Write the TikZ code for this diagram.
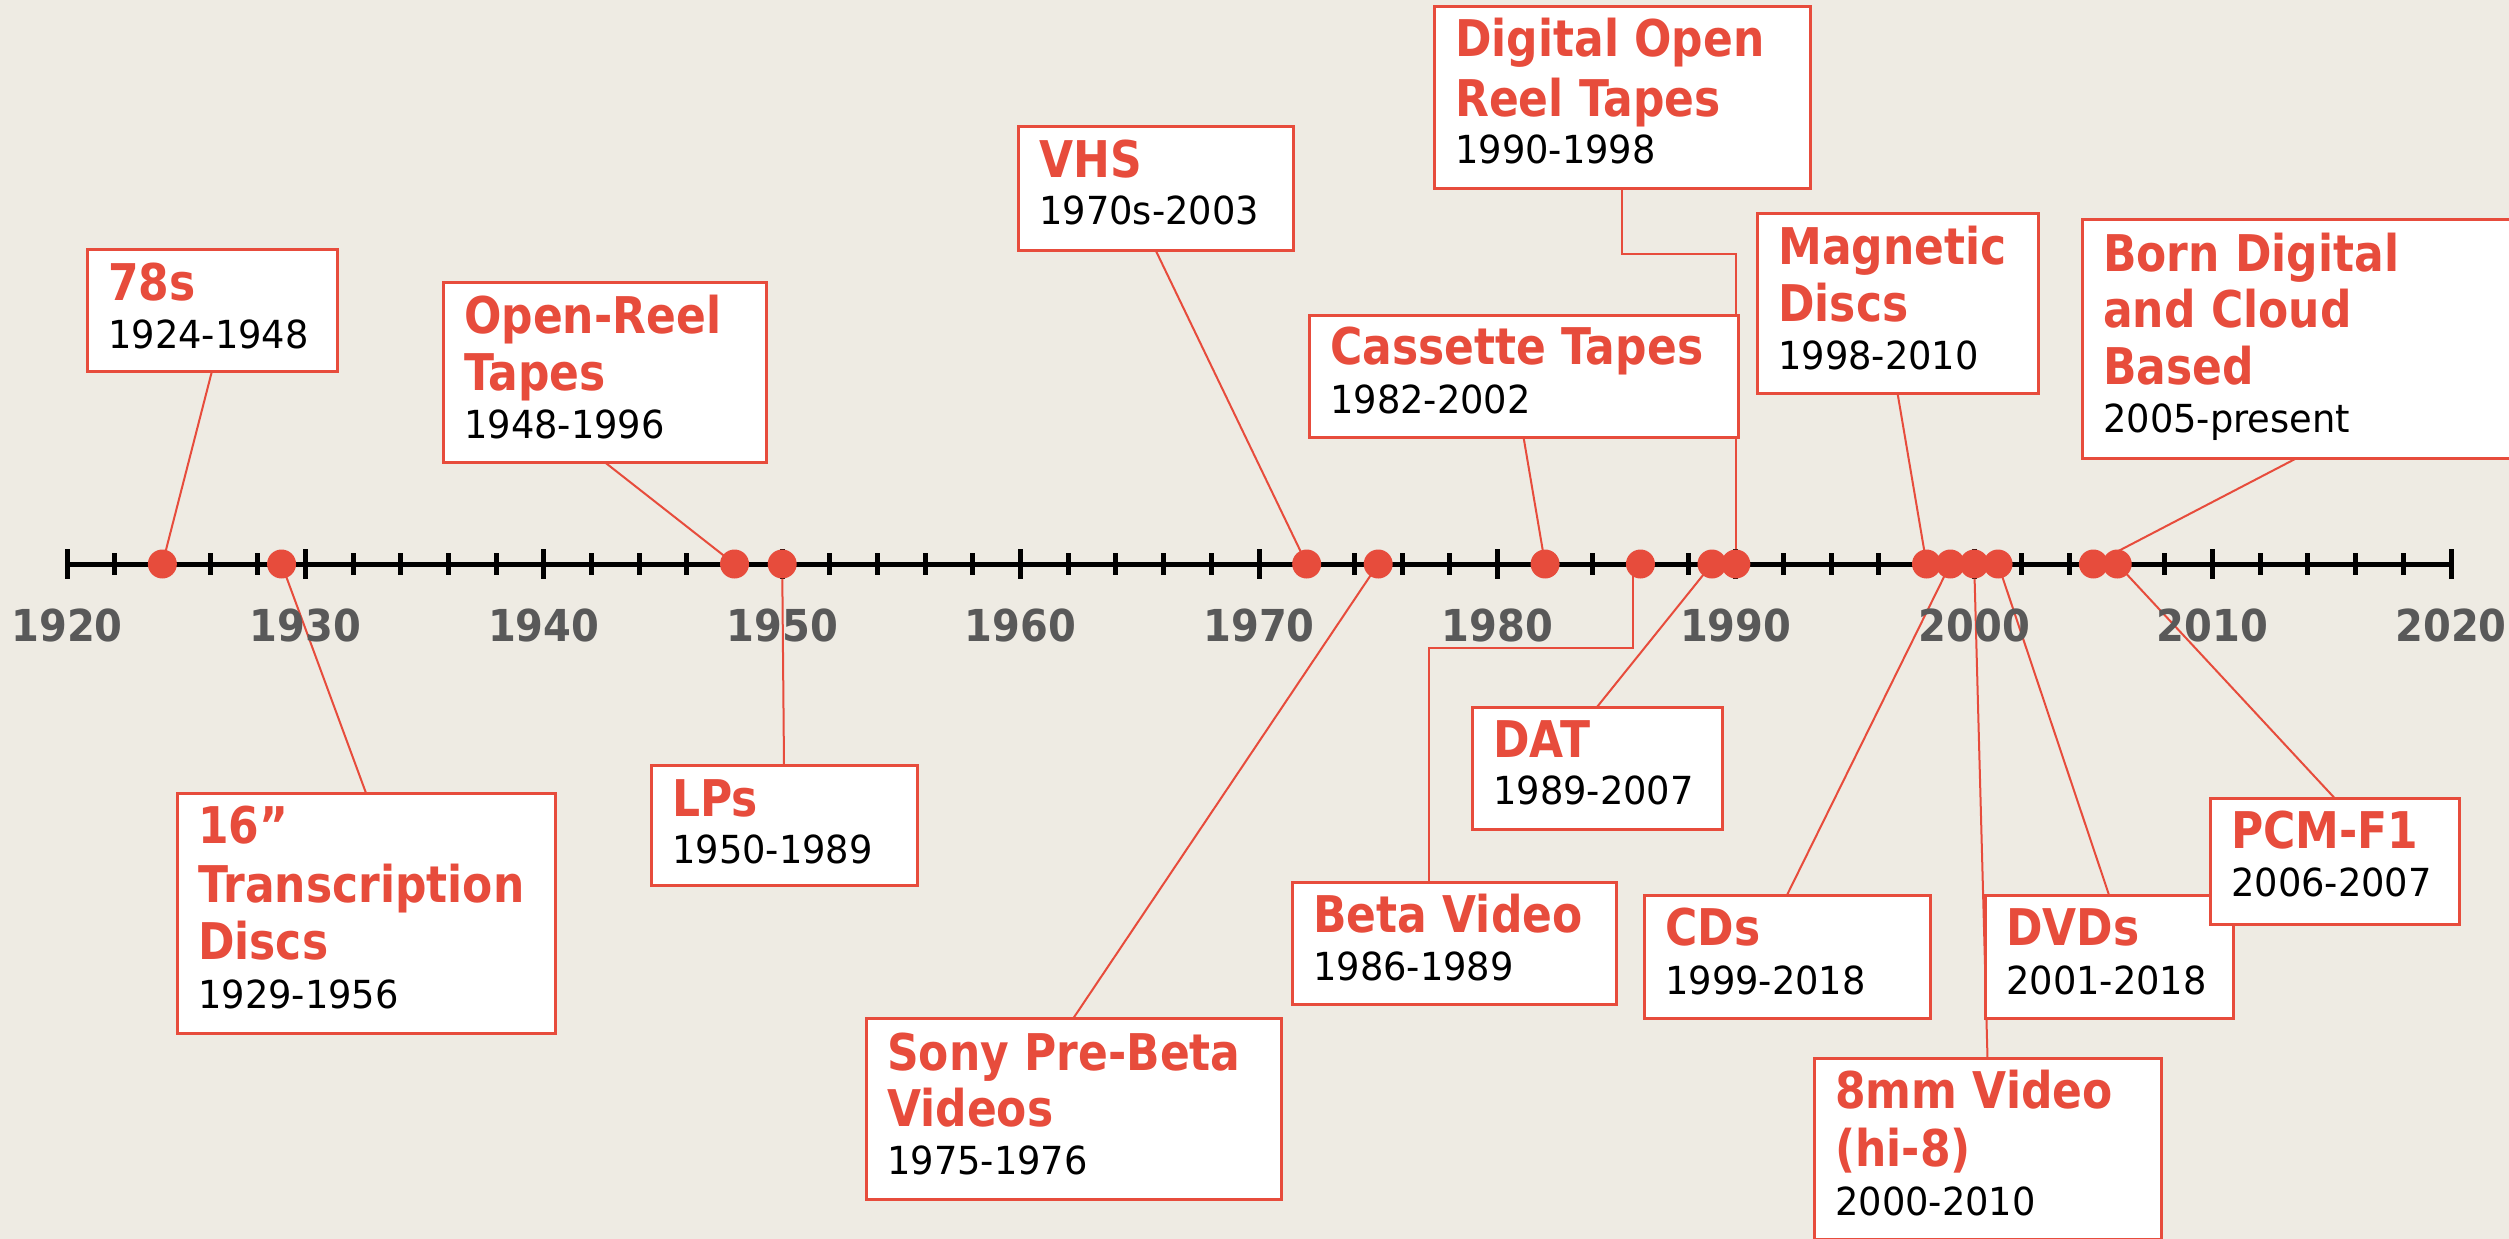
\documentclass[tikz,border=0pt]{standalone}
\usepackage{fontspec}
\setmainfont{DejaVu Sans}
\usepackage{graphicx}
\usetikzlibrary{calc}
\definecolor{tlred}{HTML}{E74C3C}
\definecolor{bgc}{HTML}{EEEBE3}
\definecolor{axgray}{HTML}{595959}
\pgfdeclarelayer{bg}
\pgfdeclarelayer{lines}
\pgfsetlayers{bg,lines,main}
\newcommand\stt[1]{\scalebox{1}[1.15]{#1}}
\newcommand\boxttl[3]{\node[ttl, anchor=base west] (#1t#2) at ([shift={(21pt,-#2pt)}]#1.north west) {\stt{#3}};}
\newcommand\boxyr[3]{\node[yrs, anchor=base west] (#1y#2) at ([shift={(21pt,-#2pt)}]#1.north west) {\scalebox{1}[1.05]{#3}};}
\tikzset{
  box/.style={rectangle, draw=tlred, line width=3pt, fill=white, inner sep=0pt, outer sep=0pt, anchor=north west},
  ttl/.style={text=tlred, font=\fontsize{44}{50}\selectfont\bfseries, inner sep=0pt},
  yrs/.style={text=black, font=\fontsize{36.8}{40}\selectfont, inner sep=0pt},
  conn/.style={draw=tlred, line width=2pt},
  dot/.style={circle, fill=tlred, minimum size=29pt, inner sep=0pt},
  axl/.style={text=axgray, font=\fontsize{40}{44}\selectfont\bfseries, inner sep=0pt, anchor=base},
}
\begin{document}
\begin{tikzpicture}[x=1pt,y=-1pt]
\useasboundingbox (0,0) rectangle (2509,1239);
\begin{pgfonlayer}{bg}
\fill[bgc] (0,0) rectangle (2509,1239);
\end{pgfonlayer}

% dot positions
\foreach \yr in {1924,1929,1948,1950,1972,1975,1982,1986,1989,1990,1998,1999,2000,2001,2005,2006}{
  \coordinate (y\yr) at ({67+(\yr-1920)*23.84},564);
}

% boxes
\node[box, minimum width=250pt, minimum height=122pt] (b78) at (87,249) {};
\boxttl{b78}{51}{78s}
\boxyr{b78}{99}{1924-1948}

\node[box, minimum width=378pt, minimum height=240pt] (b16) at (177,793) {};
\boxttl{b16}{50}{16”}
\boxttl{b16}{109}{Transcription}
\boxttl{b16}{166}{Discs}
\boxyr{b16}{215}{1929-1956}

\node[box, minimum width=323pt, minimum height=180pt] (bopen) at (443,282) {};
\boxttl{bopen}{51}{Open-Reel}
\boxttl{bopen}{108}{Tapes}
\boxyr{bopen}{156}{1948-1996}

\node[box, minimum width=266pt, minimum height=120pt] (blp) at (651,765) {};
\boxttl{blp}{51}{LPs}
\boxyr{blp}{98}{1950-1989}

\node[box, minimum width=275pt, minimum height=124pt] (bvhs) at (1018,126) {};
\boxttl{bvhs}{51}{VHS}
\boxyr{bvhs}{98}{1970s-2003}

\node[box, minimum width=415pt, minimum height=181pt] (bsony) at (866,1018) {};
\boxttl{bsony}{52}{Sony Pre-Beta}
\boxttl{bsony}{108}{Videos}
\boxyr{bsony}{156}{1975-1976}

\node[box, minimum width=429pt, minimum height=122pt] (bcass) at (1309,315) {};
\boxttl{bcass}{49}{Cassette Tapes}
\boxyr{bcass}{98}{1982-2002}

\node[box, minimum width=376pt, minimum height=181pt] (bdig) at (1434,7) {};
\boxttl{bdig}{50}{Digital Open}
\boxttl{bdig}{110}{Reel Tapes}
\boxyr{bdig}{156}{1990-1998}

\node[box, minimum width=324pt, minimum height=122pt] (bbeta) at (1292,882) {};
\boxttl{bbeta}{50}{Beta Video}
\boxyr{bbeta}{98}{1986-1989}

\node[box, minimum width=250pt, minimum height=122pt] (bdat) at (1472,707) {};
\boxttl{bdat}{50}{DAT}
\boxyr{bdat}{97}{1989-2007}

\node[box, minimum width=281pt, minimum height=180pt] (bmag) at (1757,213) {};
\boxttl{bmag}{51}{Magnetic}
\boxttl{bmag}{108}{Discs}
\boxyr{bmag}{156}{1998-2010}

\node[box, minimum width=430pt, minimum height=239pt] (bborn) at (2082,219) {};
\boxttl{bborn}{52}{Born Digital}
\boxttl{bborn}{108}{and Cloud}
\boxttl{bborn}{165}{Based}
\boxyr{bborn}{213}{2005-present}

\node[box, minimum width=286pt, minimum height=123pt] (bcd) at (1644,895) {};
\boxttl{bcd}{50}{CDs}
\boxyr{bcd}{99}{1999-2018}

\node[box, minimum width=248pt, minimum height=123pt] (bdvd) at (1985,895) {};
\boxttl{bdvd}{50}{DVDs}
\boxyr{bdvd}{99}{2001-2018}

\node[box, minimum width=347pt, minimum height=181pt] (b8mm) at (1814,1058) {};
\boxttl{b8mm}{50}{8mm Video}
\boxttl{b8mm}{108}{(hi-8)}
\boxyr{b8mm}{157}{2000-2010}

\node[box, minimum width=249pt, minimum height=126pt] (bpcm) at (2210,798) {};
\boxttl{bpcm}{50}{PCM-F1}
\boxyr{bpcm}{98}{2006-2007}

% connectors
\coordinate (elbowD) at (1622,254);
\coordinate (betaA) at (1633,648);
\coordinate (betaB) at (1429,648);
\begin{pgfonlayer}{lines}
\draw[conn] (b78.south) -- (y1924);
\draw[conn] (b16.north) -- (y1929);
\draw[conn] (bopen.south) -- (y1948);
\draw[conn] (blp.north) -- (y1950);
\draw[conn] (bvhs.south) -- (y1972);
\draw[conn] (bsony.north) -- (y1975);
\draw[conn] (bcass.south) -- (y1982);
\draw[conn] (bdig.south) -- (elbowD) -| (y1990);
\draw[conn] (betaA |- y1986) -- (betaA) -- (betaB) -- (betaB |- bbeta.north);
\draw[conn] (bdat.north) -- (y1989);
\draw[conn] (bmag.south) -- (y1998);
\draw[conn] (bcd.north) -- (y1999);
\draw[conn] (b8mm.north) -- (y2000);
\draw[conn] (bdvd.north) -- (y2001);
\draw[conn] (bborn.south) -- (y2005);
\draw[conn] (bpcm.north) -- (y2006);
\end{pgfonlayer}

% axis
\draw[line width=5pt] (67,564) -- (2451,564);
\foreach \yr in {1920,1922,...,2020}{
  \pgfmathsetmacro\xx{67+(\yr-1920)*23.84}
  \draw[line width=5pt] (\xx,553) -- (\xx,575);
}
\foreach \yr in {1920,1930,...,2020}{
  \pgfmathsetmacro\xx{67+(\yr-1920)*23.84}
  \draw[line width=5pt] (\xx,549) -- (\xx,579);
  \node[axl] (lab\yr) at (\xx,641) {\scalebox{1}[1.1]{\yr}};
}

% dots
\foreach \yr in {1924,1929,1948,1950,1972,1975,1982,1986,1989,1990,1998,1999,2000,2001,2005,2006}{
  \node[dot] (dot\yr) at (y\yr) {};
}
\end{tikzpicture}
\end{document}
